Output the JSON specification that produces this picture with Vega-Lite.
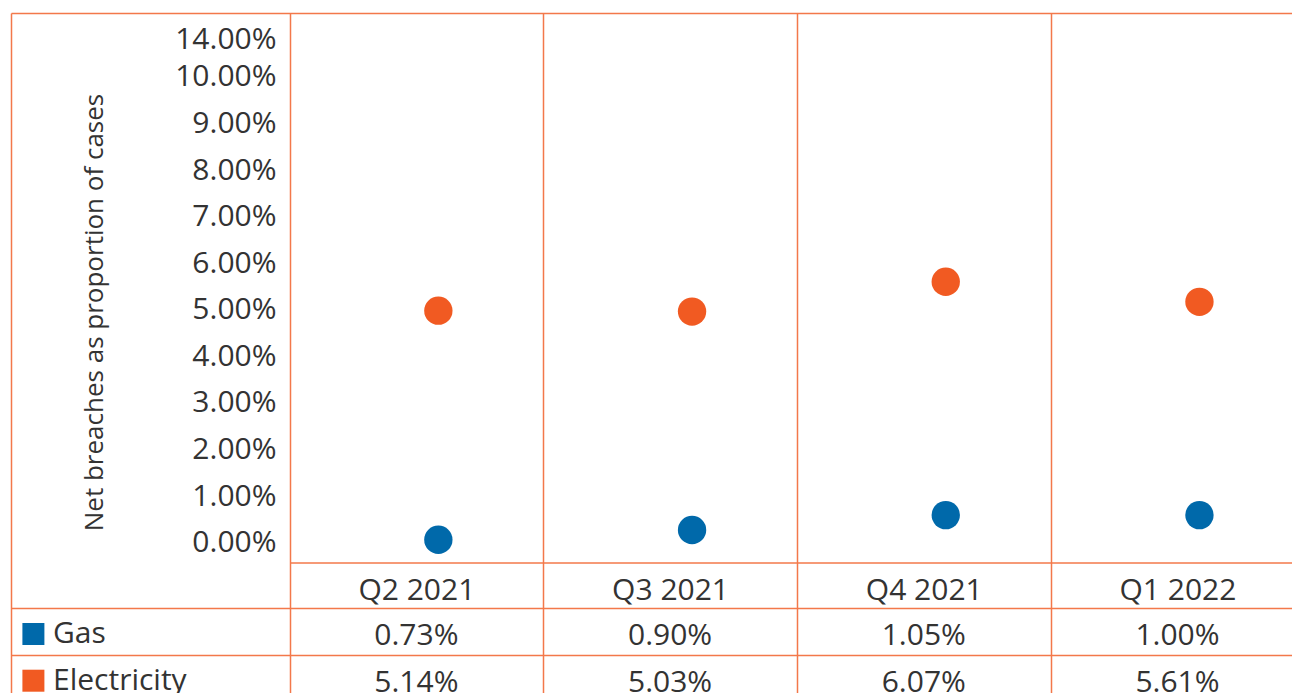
{
  "$schema": "https://vega.github.io/schema/vega-lite/v6.json",
  "autosize": {"type": "none"},
  "padding": {"left": 11, "top": 13, "right": 0, "bottom": 0},
  "width": 1281,
  "height": 680,
  "background": "white",
  "config": {
    "font": "Open Sans",
    "view": {"stroke": null},
    "axis": {"gridColor": "#F3784A", "domainColor": "#F3784A", "gridOpacity": 1}
  },
  "data": {
    "values": [
      {"quarter": "Q2 2021", "series": "Gas", "plotted": 0.03, "table": "0.73%"},
      {"quarter": "Q3 2021", "series": "Gas", "plotted": 0.24, "table": "0.90%"},
      {"quarter": "Q4 2021", "series": "Gas", "plotted": 0.56, "table": "1.05%"},
      {"quarter": "Q1 2022", "series": "Gas", "plotted": 0.56, "table": "1.00%"},
      {"quarter": "Q2 2021", "series": "Electricity", "plotted": 4.95, "table": "5.14%"},
      {"quarter": "Q3 2021", "series": "Electricity", "plotted": 4.93, "table": "5.03%"},
      {"quarter": "Q4 2021", "series": "Electricity", "plotted": 5.57, "table": "6.07%"},
      {"quarter": "Q1 2022", "series": "Electricity", "plotted": 5.14, "table": "5.61%"}
    ]
  },
  "layer": [
    {
      "mark": {"type": "circle", "size": 804, "opacity": 1, "xOffset": 22},
      "encoding": {
        "x": {
          "field": "quarter",
          "type": "nominal",
          "sort": ["Q2 2021", "Q3 2021", "Q4 2021", "Q1 2022"],
          "scale": {"type": "band", "paddingInner": 0, "paddingOuter": 0, "range": [278.5, 1293.3]},
          "axis": {
            "orient": "bottom",
            "offset": -130.5,
            "title": null,
            "domain": true,
            "domainColor": "#F3784A",
            "domainWidth": 1.5,
            "ticks": false,
            "tickSize": 0,
            "grid": true,
            "gridColor": "#F3784A",
            "gridWidth": 1.5,
            "gridOpacity": 1,
            "tickBand": "extent",
            "labelAngle": 0,
            "labelFontSize": 30,
            "labelColor": "#333333",
            "labelBaseline": "alphabetic",
            "labelPadding": 37,
            "labelOverlap": false,
            "labelFlush": false
          }
        },
        "y": {
          "field": "plotted",
          "type": "quantitative",
          "scale": {"domain": [-3.26, 11.342], "nice": false, "zero": false},
          "axis": {
            "orient": "left",
            "offset": 0,
            "values": [0, 1, 2, 3, 4, 5, 6, 7, 8, 9, 10, 10.795],
            "labelExpr": "datum.value > 10.5 ? '14.00%' : format(datum.value, '.2f') + '%'",
            "grid": false,
            "ticks": false,
            "tickSize": 0,
            "domain": true,
            "domainColor": "#F3784A",
            "domainWidth": 1.5,
            "labelAlign": "right",
            "labelPadding": -265,
            "labelFontSize": 30,
            "labelColor": "#333333",
            "labelBaseline": "alphabetic",
            "labelOffset": 10.5,
            "labelOverlap": false,
            "labelFlush": false,
            "labelBound": false,
            "title": "Net breaches as proportion of cases",
            "titleFontSize": 26,
            "titleFontWeight": "normal",
            "titleColor": "#333333",
            "titleX": 91.5,
            "titleY": 299,
            "titleBaseline": "alphabetic",
            "titleAngle": 270,
            "titleAlign": "center"
          }
        },
        "color": {
          "field": "series",
          "type": "nominal",
          "scale": {"domain": ["Gas", "Electricity"], "range": ["#0069AA", "#F15A22"]},
          "legend": {
            "title": null,
            "orient": "none",
            "legendX": 7.4,
            "legendY": 606,
            "direction": "vertical",
            "symbolType": "square",
            "symbolSize": 484,
            "symbolStrokeWidth": 0,
            "symbolOpacity": 1,
            "labelFontSize": 30,
            "labelColor": "#333333",
            "labelOffset": 4.6,
            "rowPadding": 16.7,
            "padding": 0
          }
        }
      }
    },
    {
      "mark": {"type": "text", "fontSize": 30, "color": "#333333", "baseline": "alphabetic", "align": "center", "dy": 13.35},
      "encoding": {
        "x": {
          "field": "quarter",
          "type": "nominal",
          "sort": ["Q2 2021", "Q3 2021", "Q4 2021", "Q1 2022"],
          "scale": {"type": "band", "paddingInner": 0, "paddingOuter": 0.5489, "align": 1, "range": [0, 1293.3]},
          "axis": {
            "orient": "top",
            "title": null,
            "domain": true,
            "domainColor": "#F3784A",
            "domainWidth": 1.5,
            "labels": false,
            "ticks": false,
            "grid": false
          }
        },
        "y": {
          "field": "series",
          "type": "nominal",
          "sort": ["Gas", "Electricity"],
          "scale": {"type": "band", "domain": ["Gas", "Electricity"], "paddingInner": 0, "paddingOuter": 0, "range": [595.3, 688.7]},
          "axis": {
            "orient": "left",
            "title": null,
            "domain": false,
            "labels": false,
            "ticks": false,
            "grid": true,
            "gridColor": "#F3784A",
            "gridWidth": 1.5,
            "gridOpacity": 1,
            "tickBand": "extent"
          }
        },
        "text": {"field": "table", "type": "nominal"}
      }
    }
  ],
  "resolve": {
    "scale": {"x": "independent", "y": "independent"},
    "axis": {"x": "independent", "y": "independent"}
  }
}
